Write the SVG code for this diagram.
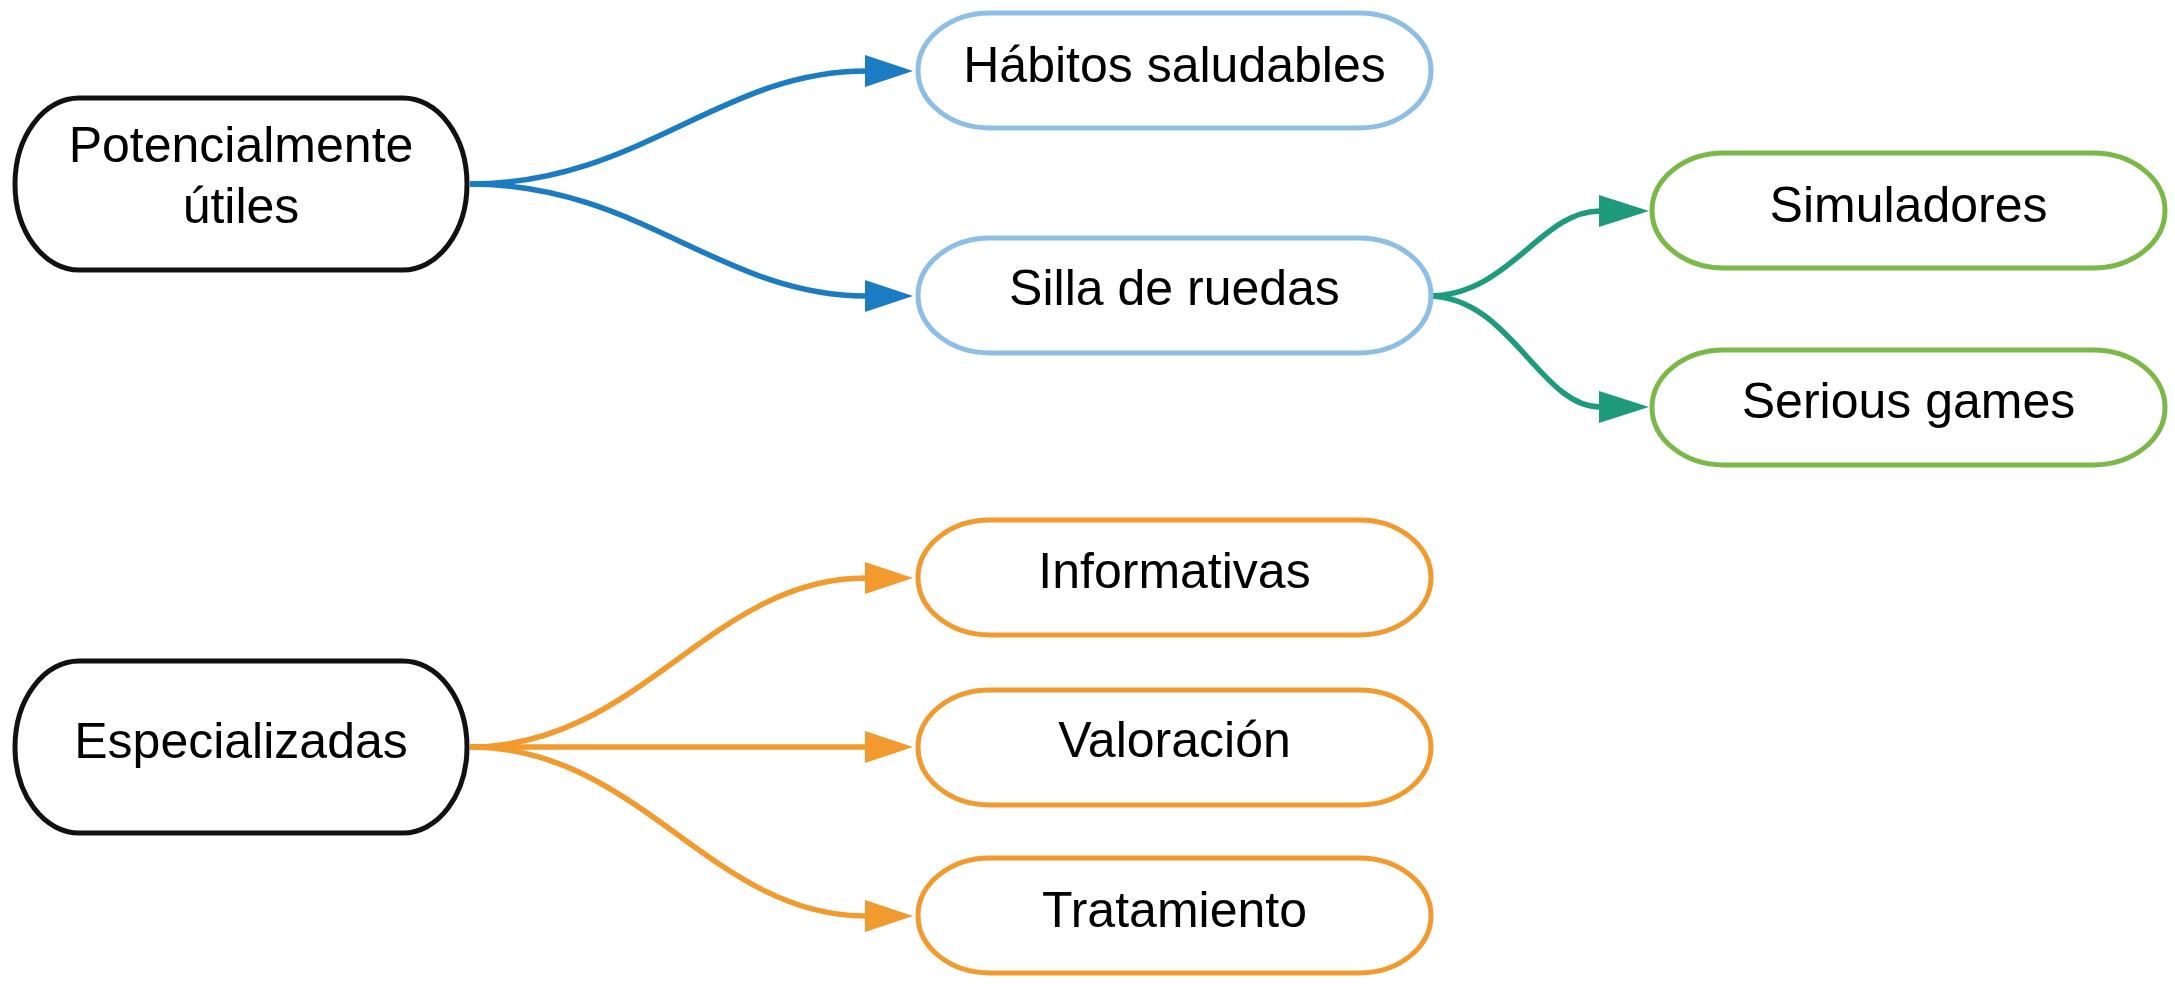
<svg xmlns="http://www.w3.org/2000/svg" width="2175" height="994" viewBox="0 0 2175 994">
<style>
.lbl{font-family:"Liberation Sans",Arial,sans-serif;font-size:50px;fill:#000;text-anchor:middle}
.box{fill:#fff;stroke-width:5}
.root{stroke:#111}
.blue{stroke:#8cbee8}
.green{stroke:#7ab848}
.orange{stroke:#f29a2e}
.c{fill:none;stroke-width:5.5}
.cb{stroke:#1b7cc3}
.ct{stroke:#1e9a7c}
.co{stroke:#f29a2e}
</style>
<defs>
<marker id="ab" markerUnits="userSpaceOnUse" markerWidth="50" markerHeight="34" refX="1" refY="16" orient="auto"><path d="M0,0 L48,16 L0,32 Z" fill="#1b7cc3"/></marker>
<marker id="at" markerUnits="userSpaceOnUse" markerWidth="52" markerHeight="34" refX="1" refY="16" orient="auto"><path d="M0,0 L50,16 L0,32 Z" fill="#1e9a7c"/></marker>
<marker id="ao" markerUnits="userSpaceOnUse" markerWidth="50" markerHeight="34" refX="1" refY="16" orient="auto"><path d="M0,0 L48,16 L0,32 Z" fill="#f29a2e"/></marker>
</defs>
<g id="connectors">
<path class="c cb" d="M470,184 C640,184 720,71 866,71" marker-end="url(#ab)"/>
<path class="c cb" d="M470,184 C640,184 720,296 866,296" marker-end="url(#ab)"/>
<path class="c ct" d="M1428,296 C1510,296 1540,211 1600,211" marker-end="url(#at)"/>
<path class="c ct" d="M1428,296 C1510,296 1540,407 1600,407" marker-end="url(#at)"/>
<path class="c co" d="M470,747 C640,747 710,578 866,578" marker-end="url(#ao)"/>
<path class="c co" d="M470,747 L866,747" marker-end="url(#ao)"/>
<path class="c co" d="M470,747 C640,747 710,916 866,916" marker-end="url(#ao)"/>
</g>
<g id="node-potencialmente">
<rect class="box root" x="15" y="98" width="452" height="172" rx="64" ry="86"/>
<text class="lbl" x="241" y="162">Potencialmente</text>
<text class="lbl" x="241" y="223">útiles</text>
</g>
<g id="node-habitos">
<rect class="box blue" x="918" y="13" width="513" height="115" rx="72" ry="57.5"/>
<text class="lbl" x="1174.5" y="82">Hábitos saludables</text>
</g>
<g id="node-silla">
<rect class="box blue" x="918" y="238" width="513" height="115" rx="72" ry="57.5"/>
<text class="lbl" x="1174.5" y="305">Silla de ruedas</text>
</g>
<g id="node-simuladores">
<rect class="box green" x="1652" y="153" width="513" height="115" rx="72" ry="57.5"/>
<text class="lbl" x="1908.5" y="222">Simuladores</text>
</g>
<g id="node-serious">
<rect class="box green" x="1652" y="350" width="513" height="115" rx="72" ry="57.5"/>
<text class="lbl" x="1908.5" y="418">Serious games</text>
</g>
<g id="node-especializadas">
<rect class="box root" x="15" y="661" width="452" height="172" rx="64" ry="86"/>
<text class="lbl" x="241" y="758">Especializadas</text>
</g>
<g id="node-informativas">
<rect class="box orange" x="918" y="520" width="513" height="115" rx="72" ry="57.5"/>
<text class="lbl" x="1174.5" y="588">Informativas</text>
</g>
<g id="node-valoracion">
<rect class="box orange" x="918" y="690" width="513" height="115" rx="72" ry="57.5"/>
<text class="lbl" x="1174.5" y="757">Valoración</text>
</g>
<g id="node-tratamiento">
<rect class="box orange" x="918" y="858" width="513" height="115" rx="72" ry="57.5"/>
<text class="lbl" x="1174.5" y="927">Tratamiento</text>
</g>
</svg>
